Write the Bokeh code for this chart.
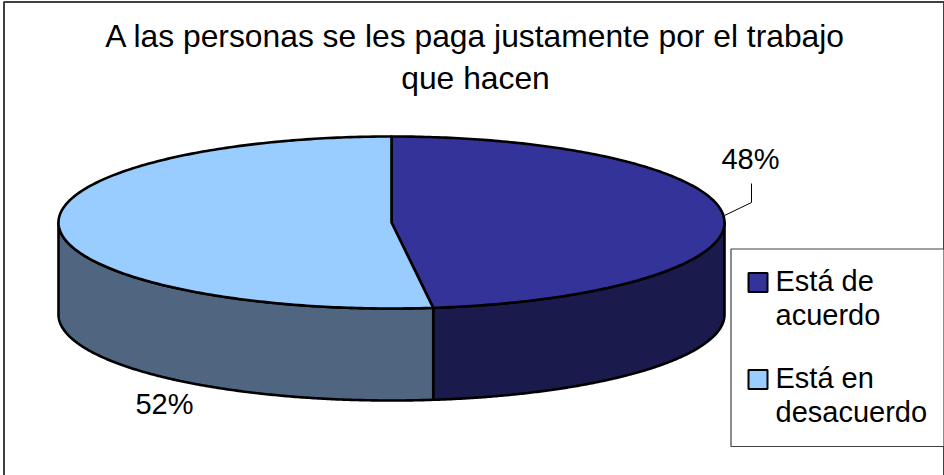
import numpy as np
from bokeh.core.properties import value
from bokeh.embed import file_html
from bokeh.models import Range1d
from bokeh.plotting import figure
from bokeh.resources import INLINE

# Chart content
title_lines = ["A las personas se les paga justamente por el trabajo", "que hacen"]
categories = ["Está de\nacuerdo", "Está en\ndesacuerdo"]
shares = [48, 52]
top_colors = ["#333399", "#99CCFF"]
side_colors = ["#1A1A4D", "#4F6580"]

FONT = value("Liberation Sans")
INK = "#000000"

# Pie geometry, in page pixels
CX, CY, RX, RY, DEPTH = 391.0, 222.0, 333.0, 86.0, 92.0

p = figure(width=944, height=475, output_backend="svg", toolbar_location=None,
           x_range=Range1d(0, 944), y_range=Range1d(475, 0),
           min_border=0, background_fill_color="white", border_fill_color="white")
p.axis.visible = False
p.grid.visible = False
p.outline_line_color = None


def rim(a0, a1, n=240):
    """Points on the top ellipse; angles run clockwise from twelve o'clock, in degrees."""
    t = np.radians(np.linspace(a0, a1, n))
    return CX + RX * np.sin(t), CY - RY * np.cos(t)


# Chart frame
p.line([3.5, 3.5, 943.5, 943.5], [480, 1.5, 1.5, 480], line_color="#404040", line_width=2)

# Slice boundaries from the shares
edges = np.concatenate([[0], np.cumsum(shares)]) * 360.0 / sum(shares)

# Side walls: only the front half of the rim (90 to 270 degrees) is visible
for a0, a1, col in zip(edges[:-1], edges[1:], side_colors):
    lo, hi = max(a0, 90), min(a1, 270)
    if lo < hi:
        x, y = rim(lo, hi)
        p.patch(np.r_[x, x[::-1]], np.r_[y, y[::-1] + DEPTH],
                fill_color=col, line_color=INK, line_width=2.6, line_join="round")

# Top faces
for a0, a1, col in zip(edges[:-1], edges[1:], top_colors):
    x, y = rim(a0, a1)
    p.patch(np.r_[CX, x], np.r_[CY, y], fill_color=col, line_color=INK,
            line_width=2.6, line_join="round")

# Title
for line, y in zip(title_lines, [35.5, 77.5]):
    p.text([475], [y], text=[line], text_font=FONT, text_font_size="31.8px",
           text_align="center", text_baseline="middle", text_color="#000000")

# Data labels, with the leader line of the first slice
pct = [f"{v}%" for v in shares]
p.text([750], [158], text=[pct[0]], text_font=FONT, text_font_size="29px",
       text_align="center", text_baseline="middle", text_color="#000000")
p.text([164], [403], text=[pct[1]], text_font=FONT, text_font_size="29px",
       text_align="center", text_baseline="middle", text_color="#000000")
p.line([724, 751, 751], [215, 202, 183], line_color=INK, line_width=1)

# Legend
p.patch([730.5, 943.5, 943.5, 730.5], [248.5, 248.5, 446, 446],
        fill_color="white", line_color="#404040", line_width=1.2)
for label, col, y in zip(categories, top_colors, [282, 379]):
    p.rect([757.5], [y], width=19, height=19, fill_color=col, line_color=INK, line_width=2)
    first, second = label.split("\n")
    p.text([775], [y - 2], text=[first], text_font=FONT, text_font_size="29px",
           text_baseline="middle", text_color="#000000")
    p.text([775], [y + 32], text=[second], text_font=FONT, text_font_size="29px",
           text_baseline="middle", text_color="#000000")

open("out.html", "w").write(file_html(p, INLINE))
